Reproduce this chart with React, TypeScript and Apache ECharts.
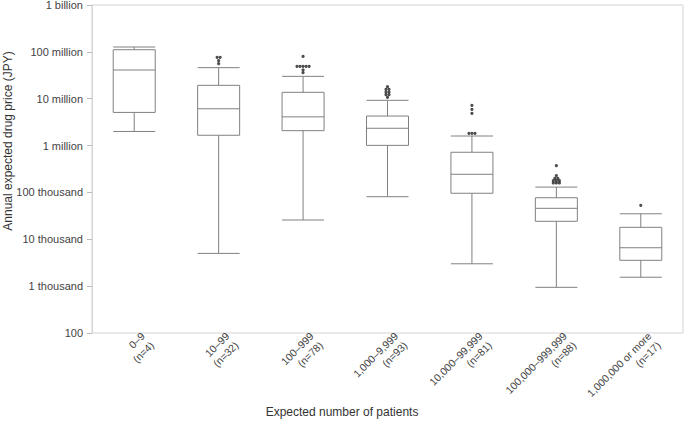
import React, { useEffect, useRef } from "react";
import * as echarts from "echarts";

const categories = [
  "0–9\n(n=4)",
  "10–99\n(n=32)",
  "100–999\n(n=78)",
  "1,000–9,999\n(n=93)",
  "10,000–99,999\n(n=81)",
  "100,000–999,999\n(n=88)",
  "1,000,000 or more\n(n=17)",
];

// [lower whisker, Q1, median, Q3, upper whisker]
const boxStats = [
  [2.0e6, 5.1e6, 41e6, 111e6, 127e6],
  [5.0e3, 1.66e6, 6.1e6, 19.3e6, 46e6],
  [25.8e3, 2.08e6, 4.1e6, 13.7e6, 30e6],
  [81e3, 1.01e6, 2.34e6, 4.27e6, 9.25e6],
  [3.0e3, 96e3, 244e3, 720e3, 1.6e6],
  [944, 24.2e3, 45.8e3, 77e3, 130e3],
  [1.55e3, 3.56e3, 6.6e3, 18e3, 35e3],
];

// outliers: [category index, jitter slot, value]
const outliers = [
  [1, -0.5, 76.5e6], [1, 0.5, 76.5e6], [1, 0, 64.7e6], [1, 0, 55.9e6],
  [2, 0, 80e6], [2, -2, 49e6], [2, -1, 49e6], [2, 0, 49e6], [2, 1, 49e6], [2, 2, 49e6],
  [2, 0, 41e6], [2, 0, 36e6],
  [3, 0, 18e6], [3, -0.5, 15.9e6], [3, 0.5, 15.9e6], [3, -0.5, 13.9e6], [3, 0.5, 13.9e6],
  [3, -0.5, 12.2e6], [3, 0.5, 12.2e6], [3, 0, 10.7e6],
  [4, 0, 7.23e6], [4, 0, 5.95e6], [4, 0, 4.89e6], [4, -1, 1.83e6], [4, 0, 1.83e6], [4, 1, 1.83e6],
  [5, 0, 372e3], [5, 0, 228e3], [5, -0.5, 200e3], [5, 0.5, 200e3],
  [5, -1, 178e3], [5, 0, 178e3], [5, 1, 178e3], [5, -1, 159e3], [5, 0, 159e3], [5, 1, 159e3],
  [6, 0, 53e3],
];

const yTickLabels: Record<number, string> = {
  2: "100",
  3: "1 thousand",
  4: "10 thousand",
  5: "100 thousand",
  6: "1 million",
  7: "10 million",
  8: "100 million",
  9: "1 billion",
};

const xTitle = "Expected number of patients";
const yTitle = "Annual expected drug price (JPY)";

const FONT = "Liberation Sans, Arial, sans-serif";
const JITTER = 0.036;
const LABEL_SHIFT = 0.16;

export default function App() {
  const ref = useRef<HTMLDivElement>(null);
  useEffect(() => {
    if (!ref.current) return;
    const chart = echarts.init(ref.current, undefined, { renderer: "svg" });
    chart.setOption({
      animation: false,
      backgroundColor: "#fff",
      grid: {
        left: 92, right: 2, top: 5, bottom: 90,
        outerBoundsMode: "none", containLabel: false,
        show: true, borderColor: "#d4d4d4", borderWidth: 1,
      },
      graphic: [
        {
          type: "text",
          x: 342,
          y: 412,
          style: {
            text: xTitle, fontFamily: FONT, fontSize: 12, fill: "#333",
            textAlign: "center", textVerticalAlign: "middle",
          },
        },
        {
          type: "text",
          x: 8,
          y: 141,
          rotation: Math.PI / 2,
          style: {
            text: yTitle, fontFamily: FONT, fontSize: 12, fill: "#333",
            textAlign: "center", textVerticalAlign: "middle",
          },
        },
      ],
      xAxis: [
        {
          type: "category",
          data: categories,
          axisLine: { show: false },
          axisTick: { show: false },
          axisLabel: { show: false },
          splitLine: { show: false },
        },
        {
          type: "value",
          min: -0.5,
          max: 6.5,
          position: "bottom",
          axisLine: { show: false },
          axisTick: { show: false },
          splitLine: { show: false },
          axisLabel: {
            customValues: categories.map((_, i) => i + LABEL_SHIFT),
            formatter: (v: number) => categories[Math.round(v - LABEL_SHIFT)] ?? "",
            rotate: 45,
            margin: 6,
            fontFamily: FONT,
            fontSize: 10.5,
            lineHeight: 13,
            color: "#444",
          },
        },
      ],
      yAxis: {
        type: "log",
        logBase: 10,
        min: 100,
        max: 1e9,
        splitNumber: 7,
        axisLine: { show: true, onZero: false, lineStyle: { color: "#d4d4d4" } },
        axisTick: { show: true, length: 5, lineStyle: { color: "#bbb" } },
        splitLine: { show: false },
        axisLabel: {
          fontFamily: FONT,
          fontSize: 11,
          color: "#444",
          margin: 9,
          formatter: (v: number) => yTickLabels[Math.round(Math.log10(v))] ?? "",
        },
      },
      series: [
        {
          type: "boxplot",
          xAxisIndex: 0,
          data: boxStats,
          boxWidth: [42, 42],
          itemStyle: { color: "#fff", borderColor: "#808080", borderWidth: 1 },
        },
        {
          type: "scatter",
          xAxisIndex: 1,
          symbol: "circle",
          symbolSize: 3.2,
          itemStyle: { color: "#222" },
          data: outliers.map(([c, j, v]) => [c + j * JITTER, v]),
        },
      ],
    });
    return () => chart.dispose();
  }, []);
  return (
    <div
      ref={ref}
      style={{ position: "fixed", left: 0, top: 0, width: 685, height: 423 }}
    />
  );
}
